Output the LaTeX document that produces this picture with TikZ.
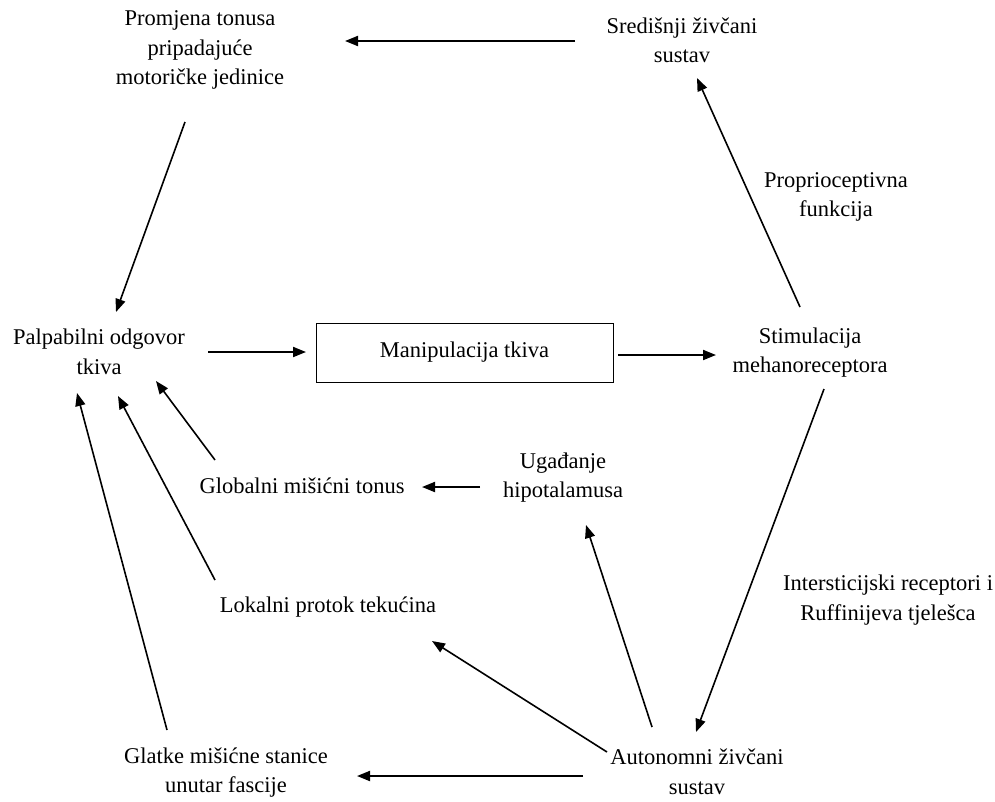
\documentclass[tikz,border=0pt]{standalone}
\usepackage{fontspec}
\setmainfont{Liberation Serif}
\usetikzlibrary{arrows.meta}
\begin{document}
\begin{tikzpicture}[x=1pt,y=-1pt,
  lbl/.style={align=center,inner sep=0pt,font=\fontsize{22.5}{29.5}\selectfont},
  arr/.style={line width=1.6pt,-{Triangle[length=13pt,width=10pt]}},
  harr/.style={line width=2pt,-{Triangle[length=13pt,width=10pt]}}]
\useasboundingbox (0,0) rectangle (995,801);
% nodes
\node[lbl] (promjena) at (200,50) {Promjena tonusa\\pripadajuće\\motoričke jedinice};
\node[lbl] (sredisnji) at (682,40.5) {Središnji živčani\\sustav};
\node[lbl] (palp) at (99,352) {Palpabilni odgovor\\tkiva};
\node[draw,line width=1pt,minimum width=297pt,minimum height=59pt,inner sep=0pt,font=\fontsize{22.5}{29.5}\selectfont] (manip) at (464.5,352.5) {Manipulacija tkiva};
\node[lbl] (stim) at (810,352.5) {Stimulacija\\mehanoreceptora};
\node[lbl] (propr) at (836,197) {Proprioceptivna\\funkcija};
\node[lbl] (inter) at (888,600) {Intersticijski receptori i\\Ruffinijeva tjelešca};
\node[lbl] (auton) at (697,772) {Autonomni živčani\\sustav};
\node[lbl] (glatke) at (226,772.5) {Glatke mišićne stanice\\unutar fascije};
\node[lbl] (lokal) at (328,607) {Lokalni protok tekućina};
\node[lbl] (ugad) at (563,477.5) {Ugađanje\\hipotalamusa};
\node[lbl] (glob) at (302,486) {Globalni mišićni tonus};
% connector end points
\coordinate (a1s) at (575,41); \coordinate (a1e) at (345,41);
\coordinate (a2s) at (185,122); \coordinate (a2e) at (116,312);
\coordinate (a3s) at (208,352); \coordinate (a3e) at (306,352);
\coordinate (a4s) at (618,355); \coordinate (a4e) at (716,355);
\coordinate (a5s) at (800,307); \coordinate (a5e) at (697,78);
\coordinate (a6s) at (824,389); \coordinate (a6e) at (696,732);
\coordinate (a7s) at (583,776); \coordinate (a7e) at (357,776);
\coordinate (a8s) at (167,730); \coordinate (a8e) at (77,393);
\coordinate (a9s) at (607,752); \coordinate (a9e) at (432,641);
\coordinate (a10s) at (215,580); \coordinate (a10e) at (118,396);
\coordinate (a11s) at (652,727); \coordinate (a11e) at (586,525);
\coordinate (a12s) at (480,487); \coordinate (a12e) at (422,487);
\coordinate (a13s) at (215,460); \coordinate (a13e) at (156,381);
% connectors
\draw[harr] (a1s) -- (a1e);
\draw[arr] (a2s) -- (a2e);
\draw[harr] (a3s) -- (a3e);
\draw[harr] (a4s) -- (a4e);
\draw[arr] (a5s) -- (a5e);
\draw[arr] (a6s) -- (a6e);
\draw[harr] (a7s) -- (a7e);
\draw[arr] (a8s) -- (a8e);
\draw[arr] (a9s) -- (a9e);
\draw[arr] (a10s) -- (a10e);
\draw[arr] (a11s) -- (a11e);
\draw[harr] (a12s) -- (a12e);
\draw[arr] (a13s) -- (a13e);
\end{tikzpicture}
\end{document}
